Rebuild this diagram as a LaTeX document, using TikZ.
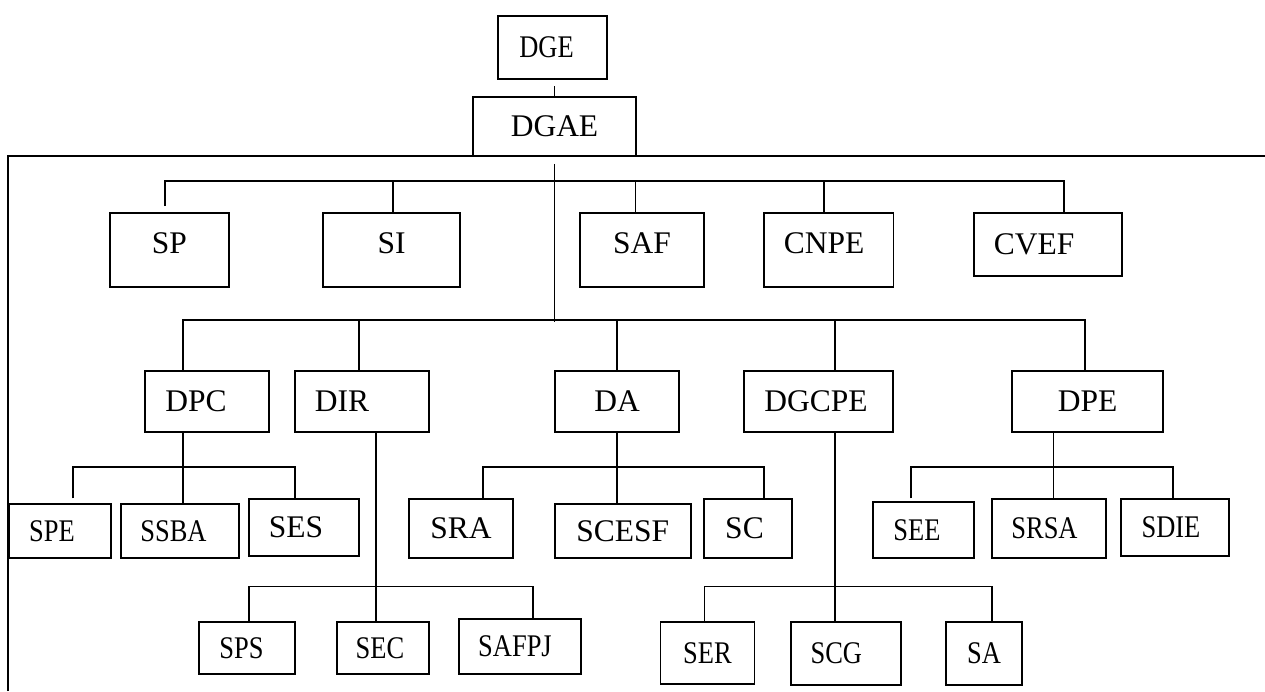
\documentclass[tikz,border=0pt]{standalone}
\usepackage{fontspec}
\setmainfont{Liberation Serif}
\newfontfamily\narrowserif[FakeStretch=0.84]{Liberation Serif}

\tikzset{
  unit/.style = {draw , line width=1.8pt , inner sep=0pt , font=\fontsize{31.5}{36}\selectfont},
  subunit/.style = {unit , font=\narrowserif\fontsize{31.5}{36}\selectfont},
  link/.style = {line width=1.8pt}
}

\begin{document}
\begin{tikzpicture}[x=1pt , y=-1pt]
\useasboundingbox (0,0) rectangle (1265,691);

% top of the chart
\node[subunit , minimum width=109pt , minimum height=63pt] (dge) at (552.5,47.5) {DGE\kern12pt} ;
\node[unit , minimum width=163pt , minimum height=59pt] (dgae) at (554.5,126.5) {DGAE} ;
\draw[link] (dgae.north) -- ++(0,-10) ;

\coordinate (frameleft) at (8,691) ;
\coordinate (frameright) at (1265,156) ;
\draw[link] (frameleft) |- (frameright) ;

% services attached to DGAE
\node[unit , minimum width=119pt , minimum height=74pt , text depth=14pt] (sp) at (169.5,250) {SP} ;
\node[unit , minimum width=137pt , minimum height=74pt , text depth=14pt] (si) at (391.5,250) {SI} ;
\node[unit , minimum width=124.5pt , minimum height=74pt , text depth=14pt] (saf) at (642,250) {SAF} ;
\node[unit , minimum width=129.5pt , minimum height=74pt , text depth=14pt] (cnpe) at (828.7,250) {CNPE\kern9pt} ;
\node[unit , minimum width=147.6pt , minimum height=62.7pt] (cvef) at (1048,244.4) {CVEF\kern28pt} ;

\draw[link] ([xshift=-4.5pt , yshift=6pt]sp.north) -- ++(0,-25) -| ([xshift=16pt]cvef.north) ;
\draw[link] ([xshift=1.5pt]si.north) -- ++(0,-31) ;
\draw[link] ([xshift=-6.5pt]saf.north) -- ++(0,-31) ;
\draw[link] ([xshift=-5pt]cnpe.north) -- ++(0,-31) ;

% directions
\node[unit , minimum width=124pt , minimum height=61pt] (dpc) at (207,401.5) {DPC\kern22pt} ;
\node[unit , minimum width=134pt , minimum height=61pt] (dir) at (362,401.5) {DIR\kern40pt} ;
\node[unit , minimum width=124pt , minimum height=61pt] (da) at (617,401.5) {DA} ;
\node[unit , minimum width=149pt , minimum height=61pt] (dgcpe) at (818.5,401.5) {DGCPE\kern5pt} ;
\node[unit , minimum width=151pt , minimum height=61pt] (dpe) at (1087.5,401.5) {DPE} ;

\draw[link] ([yshift=-7pt]dgae.south) -- ++(0,158) ;
\draw[link] ([xshift=-24pt]dpc.north) -- ++(0,-50) -| ([xshift=-2.5pt]dpe.north) ;
\draw[link] ([xshift=-3pt]dir.north) -- ++(0,-50) ;
\draw[link] (da.north) -- ++(0,-50) ;
\draw[link] ([xshift=16.5pt]dgcpe.north) -- ++(0,-50) ;

% DPC
\node[subunit , minimum width=101.6pt , minimum height=54.3pt] (spe) at (60,531) {SPE\kern16pt} ;
\node[subunit , minimum width=118.4pt , minimum height=54.3pt] (ssba) at (180,531) {SSBA\kern13pt} ;
\node[unit , minimum width=110pt , minimum height=56.4pt] (ses) at (304,527.5) {SES\kern16pt} ;
\draw[link] ([xshift=-24pt]dpc.south) -- ([xshift=3pt]ssba.north) ;
\draw[link] ([xshift=12.7pt , yshift=4.7pt]spe.north) -- ++(0,-31.3) -| ([xshift=-9.3pt]ses.north) ;

% DIR
\node[subunit , minimum width=96pt , minimum height=52.3pt] (sps) at (247,648) {SPS\kern11pt} ;
\node[subunit , minimum width=92.3pt , minimum height=52.3pt] (sec) at (383,648) {SEC\kern6pt} ;
\node[subunit , minimum width=122pt , minimum height=54.7pt] (safpj) at (520,646.7) {SAFPJ\kern10pt} ;
\draw[link] ([xshift=14pt]dir.south) -- ([xshift=-7pt]sec.north) ;
\draw[link] ([xshift=2pt]sps.north) -- ++(0,-34.4) -| ([xshift=12.7pt]safpj.north) ;

% DA
\node[unit , minimum width=104pt , minimum height=58.7pt] (sra) at (461,528.7) {SRA} ;
\node[unit , minimum width=136pt , minimum height=54.3pt] (scesf) at (622.7,531) {SCESF} ;
\node[unit , minimum width=88pt , minimum height=58.7pt] (sc) at (748,528.7) {SC\kern7pt} ;
\draw[link] (da.south) -- ([xshift=-5.7pt]scesf.north) ;
\draw[link] ([xshift=22pt]sra.north) -- ++(0,-31.6) -| ([xshift=15.7pt]sc.north) ;

% DGCPE
\node[subunit , minimum width=94pt , minimum height=62.3pt] (ser) at (707.4,652.9) {SER} ;
\node[subunit , minimum width=110pt , minimum height=63.6pt] (scg) at (846.3,653.5) {SCG\kern20pt} ;
\node[subunit , minimum width=76pt , minimum height=63.6pt] (sa) at (984,653.5) {SA} ;
\draw[link] ([xshift=16.5pt]dgcpe.south) -- ([xshift=-11.3pt]scg.north) ;
\draw[link] ([xshift=-2.9pt]ser.north) -- ++(0,-34.4) -| ([xshift=8pt]sa.north) ;

% DPE
\node[subunit , minimum width=101pt , minimum height=56.3pt] (see) at (923.5,530) {SEE\kern13pt} ;
\node[subunit , minimum width=113.5pt , minimum height=58.7pt] (srsa) at (1049,528.7) {SRSA\kern9pt} ;
\node[subunit , minimum width=108pt , minimum height=56.4pt] (sdie) at (1175,527.5) {SDIE\kern8pt} ;
\draw[link] ([xshift=-34pt]dpe.south) -- ([xshift=4.5pt]srsa.north) ;
\draw[link] ([xshift=-12.5pt , yshift=2.7pt]see.north) -- ++(0,-31.3) -| ([xshift=-2pt]sdie.north) ;

\end{tikzpicture}
\end{document}
